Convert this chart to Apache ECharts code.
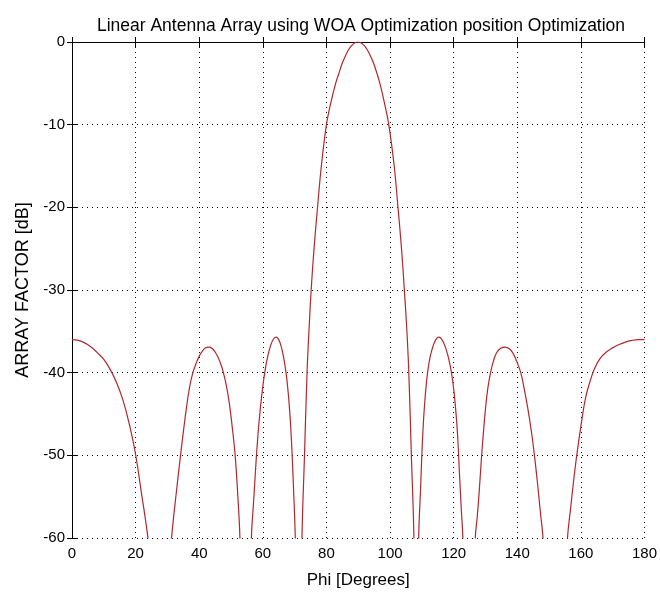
<!DOCTYPE html>
<html>
<head>
<meta charset="utf-8">
<script src="https://cdn.jsdelivr.net/npm/echarts@6/dist/echarts.min.js"></script>
<style>
	html, body { margin: 0; padding: 0; background: #fff; }
	#chart1 { width: 660px; height: 594px; }
</style>
</head>
<body>
<div id="chart1"></div>
<script>
// angle (deg) and array factor (dB); nulls go below -60 and get clipped
var phiList = [
	0, 2, 4, 6, 8, 10, 12, 14, 16, 18, 20, 22, 23, 24, 25, 27.5,
	30, 31.3, 32, 33, 34, 35, 36, 37, 38, 39, 40, 41, 42, 43, 44, 45, 46, 47, 47.6, 48.5, 49.5, 50.5, 51.3, 52, 52.8, 54.5,
	56.4, 57.2, 58, 58.8, 59.7, 60.6, 61.5, 62.5, 63.4, 64.2, 65, 65.8, 66.6, 67.3, 68, 68.6, 69.1, 69.6, 70.2, 71.3,
	72.3, 73.1, 73.9, 74.5, 75.2, 76.1, 77.2, 78.4, 80.0, 81.4, 82.9, 84, 85, 86, 87, 88, 89, 89.9,
	90.8, 91.8, 92.8, 93.8, 94.8, 95.8, 96.8, 98.2, 99.6, 101.3, 102.5, 103.6, 104.5, 105.3, 105.9, 106.7, 107.5, 108.2,
	109, 109.6, 110.1, 110.6, 111.2, 111.8, 112.6, 113.5, 114.4, 115.3, 116.2, 117.2, 118.3, 119.3, 120.1, 120.8, 121.3, 121.8, 122.4, 122.9, 124.9,
	126.8, 127.4, 128.1, 128.8, 129.3, 129.9, 130.7, 131.6, 132.5, 133.5, 134.8, 136.2, 137.5, 138.6, 139.8, 141.1, 142.2, 143.3, 144.4, 145.4, 146.4, 147.3, 148.1, 151.9,
	155.8, 156.8, 157.8, 158.7, 160, 161.5, 163, 164.3, 166, 168, 170, 172, 174, 176, 178, 180
];
var dbList = [
	-36.0, -36.1, -36.4, -36.9, -37.6, -38.4, -39.6, -41.2, -43.3, -46.2, -49.9, -55.0, -57.5, -60.4, -64, -85,
	-66, -60.0, -57.3, -53.8, -50.4, -47.2, -44.2, -41.7, -40.0, -38.9, -38.0, -37.4, -37.0, -36.9, -37.05, -37.5, -38.2, -39.2, -40.0, -41.5, -43.8, -47.0, -50.0, -54.0, -60.0, -85,
	-60.0, -55.0, -50.0, -46.0, -42.6, -40.0, -38.1, -36.65, -35.9, -35.7, -36.0, -36.85, -38.3, -40.0, -42.5, -45.5, -49.0, -53.5, -60.0, -85,
	-60.0, -50.0, -40.0, -35.0, -30.0, -25.0, -20.0, -15.0, -10.0, -7.3, -5.0, -3.7, -2.55, -1.65, -0.9, -0.4, -0.1, 0,
	-0.1, -0.4, -0.9, -1.65, -2.55, -3.7, -5.0, -7.3, -10.0, -15.0, -20.0, -25.0, -30.0, -35.0, -40.0, -50.0, -60.0, -85,
	-60.0, -54.0, -49.0, -45.3, -42.2, -40.0, -38.1, -36.8, -36.0, -35.7, -35.95, -36.7, -38.1, -40.0, -42.3, -45.2, -48.0, -52.0, -56.5, -60.0, -85,
	-60.0, -57.5, -54.0, -50.0, -47.5, -44.8, -42.0, -40.0, -38.6, -37.6, -37.05, -36.9, -37.1, -37.6, -38.6, -40.0, -42.0, -44.3, -47.0, -50.0, -53.5, -57.0, -60.0, -85,
	-60.0, -56.3, -52.8, -50.0, -46.5, -43.0, -40.9, -39.5, -38.3, -37.5, -37.0, -36.6, -36.3, -36.1, -36.0, -36.0
];
var xTicks = [0, 20, 40, 60, 80, 100, 120, 140, 160, 180];
var yTicks = [-60, -50, -40, -30, -20, -10, 0];

var fontName = 'Liberation Sans';
var axisBlack = { lineStyle : { color : '#000', width : 1 } };

var values = [];
for (var i = 0; i < phiList.length; i++) {
	values.push([phiList[i], dbList[i]]);
}

var option_af = {
		animation : false,
		backgroundColor : '#fff',
		title : {
			text : 'Linear Antenna Array using WOA Optimization position Optimization',
			left : 356,
			textAlign : 'center',
			top : 12,
			textStyle : {
				fontFamily : fontName,
				fontSize : 17.5,
				fontWeight : 'normal',
				color : '#000'
			}
		},
		grid : {
			left : 72,
			right : 10,
			top : 42,
			bottom : 55
		},
		xAxis : [ {
			type : 'value',
			min : xTicks[0],
			max : xTicks[xTicks.length - 1],
			interval : 20,
			name : 'Phi [Degrees]',
			nameLocation : 'middle',
			nameGap : 34,
			nameTextStyle : { fontFamily : fontName, fontSize : 17, color : '#000' },
			axisLine : axisBlack,
			axisTick : { inside : true, length : 5, lineStyle : { color : '#000' } },
			axisLabel : { fontFamily : fontName, fontSize : 15, color : '#000', margin : 8 },
			splitLine : { show : true, lineStyle : { color : '#000', type : [1, 4], width : 1 } }
		}, {
			type : 'value',
			position : 'top',
			min : xTicks[0],
			max : xTicks[xTicks.length - 1],
			interval : 20,
			axisLine : axisBlack,
			axisTick : { inside : true, length : 5, lineStyle : { color : '#000' } },
			axisLabel : { show : false },
			splitLine : { show : false }
		} ],
		yAxis : [ {
			type : 'value',
			min : yTicks[0],
			max : yTicks[yTicks.length - 1],
			interval : 10,
			name : 'ARRAY FACTOR [dB]',
			nameLocation : 'middle',
			nameGap : 34,
			nameTextStyle : { fontFamily : fontName, fontSize : 18, color : '#000' },
			axisLine : axisBlack,
			axisTick : { inside : true, length : 5, lineStyle : { color : '#000' } },
			axisLabel : { fontFamily : fontName, fontSize : 15, color : '#000', margin : 7 },
			splitLine : { show : true, lineStyle : { color : '#000', type : [1, 4], width : 1 } }
		}, {
			type : 'value',
			position : 'right',
			min : yTicks[0],
			max : yTicks[yTicks.length - 1],
			interval : 10,
			axisLine : axisBlack,
			axisTick : { inside : true, length : 5, lineStyle : { color : '#000' } },
			axisLabel : { show : false },
			splitLine : { show : false }
		} ],
		series : [ {
			name : 'AF',
			type : 'line',
			smooth : 0.4,
			showSymbol : false,
			clip : true,
			lineStyle : { color : '#b0282e', width : 1.2 },
			data : values
		} ]
	};

var chart1 = echarts.init(document.getElementById('chart1'));
chart1.setOption(option_af);
</script>
</body>
</html>
